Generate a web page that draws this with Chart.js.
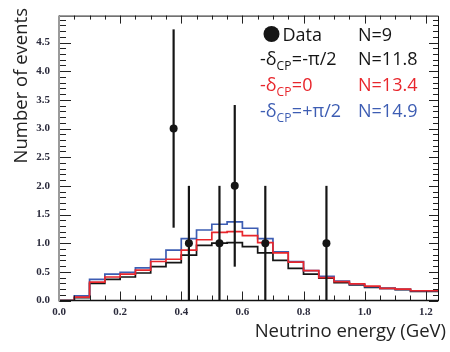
<!DOCTYPE html>
<html>
<head>
<meta charset="utf-8">
<script src="https://cdn.jsdelivr.net/npm/chart.js@4.4.0/dist/chart.umd.min.js"></script>
<style>
  html, body { margin: 0; padding: 0; background: #fff; }
  #wrap { width: 450px; height: 352px; }
</style>
</head>
<body>
<div id="wrap"><canvas id="energyChart" width="450" height="352"></canvas></div>
<script>
// Bin edges (GeV), 0.05 wide
const binEdges = [0.00, 0.05, 0.10, 0.15, 0.20, 0.25, 0.30, 0.35, 0.40, 0.45, 0.50,
                  0.55, 0.60, 0.65, 0.70, 0.75, 0.80, 0.85, 0.90, 0.95, 1.00,
                  1.05, 1.10, 1.15, 1.20, 1.25];

// Expected events per bin for each delta_CP hypothesis
const histMinusHalfPi = [0, 0, 0.05, 0.30, 0.37, 0.41, 0.48, 0.59, 0.66, 0.79, 0.96, 1.00, 1.01,
                         0.94, 0.83, 0.70, 0.56, 0.46, 0.39, 0.31, 0.27, 0.23, 0.21, 0.19, 0.16];
const histZero        = [0, 0, 0.06, 0.32, 0.41, 0.46, 0.53, 0.68, 0.72, 0.88, 1.06, 1.19, 1.20,
                         1.13, 1.01, 0.83, 0.67, 0.52, 0.40, 0.33, 0.29, 0.25, 0.21, 0.20, 0.17];
const histPlusHalfPi  = [0, 0, 0.08, 0.37, 0.46, 0.49, 0.57, 0.72, 0.88, 1.08, 1.23, 1.33, 1.37,
                         1.26, 1.08, 0.85, 0.68, 0.52, 0.42, 0.34, 0.28, 0.24, 0.21, 0.195, 0.17];

// Observed events
const dataEnergy = [0.375, 0.425, 0.525, 0.575, 0.675, 0.875];
const dataCounts = [3, 1, 1, 2, 1, 1];
const dataErrors = [1.73, 1, 1, 1.41, 1, 1];

const xTicks = [0.0, 0.2, 0.4, 0.6, 0.8, 1.0, 1.2];
const yTicks = [0.0, 0.5, 1.0, 1.5, 2.0, 2.5, 3.0, 3.5, 4.0, 4.5];

const BLACK = '#151515';
const RED = '#e8262c';
const BLUE = '#3d5db3';

function stepPoints(values) {
    const pts = values.map((v, i) => ({ x: binEdges[i], y: v }));
    pts.push({ x: binEdges[values.length], y: values[values.length - 1] });
    return pts;
}

const tickFont = { family: 'Liberation Serif', weight: 'bold', size: 11 };

// error bars under the data markers
const errorBars = {
    id: 'errorBars',
    beforeDatasetDraw(chart, args) {
        if (args.index !== 0) return;
        const { ctx, scales: { x, y } } = chart;
        ctx.save();
        ctx.strokeStyle = BLACK;
        ctx.lineWidth = 2.2;
        dataEnergy.forEach((e, i) => {
            const px = x.getPixelForValue(e);
            const lo = Math.max(0, dataCounts[i] - dataErrors[i]);
            const hi = dataCounts[i] + dataErrors[i];
            ctx.beginPath();
            ctx.moveTo(px, y.getPixelForValue(lo));
            ctx.lineTo(px, y.getPixelForValue(hi));
            ctx.stroke();
        });
        ctx.restore();
    }
};

// frame with inward tick marks, axis titles and the legend box
const frameAndText = {
    id: 'frameAndText',
    afterDraw(chart) {
        const { ctx, chartArea: a, scales: { x, y } } = chart;
        ctx.save();

        // y tick marks every 0.1
        ctx.strokeStyle = '#222';
        ctx.lineWidth = 1;
        for (let i = 0; i < 50; i++) {
            const py = Math.round(y.getPixelForValue(i / 10)) + 0.5;
            if (py < a.top + 1) continue;
            const major = i % 5 === 0;
            ctx.beginPath();
            ctx.moveTo(a.left, py);
            ctx.lineTo(a.left + (major ? 12 : 7), py);
            ctx.moveTo(a.right, py);
            ctx.lineTo(a.right - (major ? 9 : 5), py);
            ctx.stroke();
        }
        // x tick marks every 0.05
        for (let i = 0; i <= 24; i++) {
            const px = Math.round(x.getPixelForValue(i * 0.05)) + 0.5;
            if (px > a.right - 1) continue;
            const major = i % 4 === 0;
            ctx.beginPath();
            ctx.moveTo(px, a.bottom);
            ctx.lineTo(px, a.bottom - (major ? 9 : 5));
            ctx.moveTo(px, a.top);
            ctx.lineTo(px, a.top + (major ? 8 : 4));
            ctx.stroke();
        }

        // frame
        ctx.strokeStyle = '#111';
        ctx.lineWidth = 1;
        ctx.beginPath();
        ctx.moveTo(a.left, a.top + 0.5);
        ctx.lineTo(a.right + 0.5, a.top + 0.5);
        ctx.lineTo(a.right + 0.5, a.bottom);
        ctx.stroke();
        ctx.lineWidth = 1.5;
        ctx.beginPath();
        ctx.moveTo(a.left, a.bottom);
        ctx.lineTo(a.right + 1, a.bottom);
        ctx.stroke();
        ctx.strokeStyle = '#9a9a9a';
        ctx.lineWidth = 2;
        ctx.beginPath();
        ctx.moveTo(a.left, a.top);
        ctx.lineTo(a.left, a.bottom + 1);
        ctx.stroke();

        // axis titles
        ctx.fillStyle = '#222';
        ctx.font = '18.5px "Open Sans"';
        ctx.textBaseline = 'alphabetic';
        ctx.textAlign = 'right';
        ctx.fillText('Neutrino energy (GeV)', 446, 337);
        ctx.save();
        ctx.translate(27, 8);
        ctx.rotate(-Math.PI / 2);
        ctx.textAlign = 'right';
        ctx.fillText('Number of events', 0, 0);
        ctx.restore();

        // legend
        ctx.textAlign = 'left';
        ctx.fillStyle = BLACK;
        ctx.beginPath();
        ctx.arc(271.5, 34, 8, 0, Math.PI * 2);
        ctx.fill();
        ctx.font = '18px "Open Sans"';
        ctx.fillText('Data', 282.5, 40.7);
        ctx.fillText('N=9', 358, 40.7);

        const rows = [
            { rest: '=-\u03c0/2', n: 'N=11.8', color: BLACK, base: 65 },
            { rest: '=0', n: 'N=13.4', color: RED, base: 90.7 },
            { rest: '=+\u03c0/2', n: 'N=14.9', color: BLUE, base: 117.3 }
        ];
        rows.forEach(r => {
            ctx.fillStyle = r.color;
            ctx.font = '18px "Open Sans"';
            let cx = 260;
            ctx.fillText('-\u03b4', cx, r.base);
            cx += ctx.measureText('-\u03b4').width;
            ctx.font = '12px "Open Sans"';
            ctx.fillText('CP', cx, r.base + 5);
            cx += ctx.measureText('CP').width + 0.5;
            ctx.font = '18px "Open Sans"';
            ctx.fillText(r.rest, cx, r.base);
            ctx.fillText(r.n, 358, r.base);
        });
        ctx.restore();
    }
};

const ctx = document.getElementById('energyChart').getContext('2d');
new Chart(ctx, {
    type: 'line',
    data: {
        datasets: [
            {
                label: 'Data',
                data: dataEnergy.map((e, i) => ({ x: e, y: dataCounts[i] })),
                showLine: false,
                pointRadius: 4,
                pointBackgroundColor: BLACK,
                pointBorderWidth: 0
            },
            {
                label: 'dCP=0',
                data: stepPoints(histZero),
                borderColor: RED,
                borderWidth: 1.7,
                stepped: 'after',
                pointRadius: 0,
                fill: false
            },
            {
                label: 'dCP=+pi/2',
                data: stepPoints(histPlusHalfPi),
                borderColor: BLUE,
                borderWidth: 1.7,
                stepped: 'after',
                pointRadius: 0,
                fill: false
            },
            {
                label: 'dCP=-pi/2',
                data: stepPoints(histMinusHalfPi),
                borderColor: BLACK,
                borderWidth: 1.7,
                stepped: 'after',
                pointRadius: 0,
                fill: false
            }
        ]
    },
    options: {
        responsive: false,
        animation: false,
        devicePixelRatio: 1,
        layout: { padding: { top: 15, right: 12, left: 0, bottom: 0 } },
        plugins: {
            legend: { display: false },
            tooltip: { enabled: false }
        },
        scales: {
            x: {
                type: 'linear',
                min: 0,
                max: 1.24,
                afterFit(scale) { scale.height = 51.5; },
                afterBuildTicks(scale) { scale.ticks = xTicks.map(v => ({ value: v })); },
                grid: { display: false, drawTicks: false },
                border: { display: false },
                ticks: {
                    padding: 5,
                    maxRotation: 0,
                    autoSkip: false,
                    font: tickFont,
                    color: '#2b2b3c',
                    callback: v => v.toFixed(1)
                }
            },
            y: {
                type: 'linear',
                min: 0,
                max: 4.97,
                afterFit(scale) { scale.width = 59; },
                afterBuildTicks(scale) { scale.ticks = yTicks.map(v => ({ value: v })); },
                grid: { display: false, drawTicks: false },
                border: { display: false },
                ticks: {
                    padding: 9,
                    autoSkip: false,
                    font: tickFont,
                    color: '#2b2b3c',
                    callback: v => v.toFixed(1)
                }
            }
        }
    },
    plugins: [errorBars, frameAndText]
});
</script>
</body>
</html>
